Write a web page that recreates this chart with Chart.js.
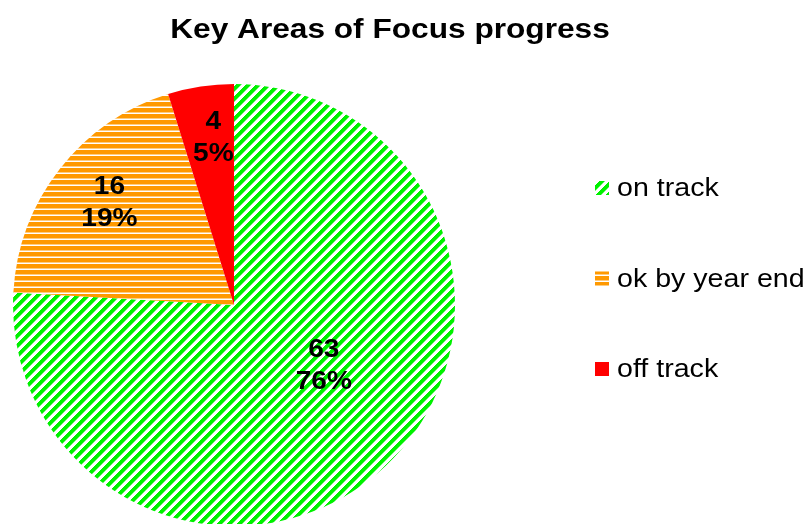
<!DOCTYPE html>
<html>
<head>
<meta charset="utf-8">
<script src="https://cdn.jsdelivr.net/npm/chart.js@4/dist/chart.umd.min.js"></script>
<style>
  html, body { margin: 0; padding: 0; background: #ffffff; overflow: hidden; }
  #wrap { position: relative; width: 811px; height: 526px; }
</style>
</head>
<body>
<div id="wrap"><canvas id="c"></canvas></div>
<script>
// ---- data ----
const chartTitle = 'Key Areas of Focus progress';
const categories = ['on track', 'ok by year end', 'off track'];
const counts = [63, 16, 4];
const percentLabels = ['76%', '19%', '5%'];

// ---- patterns (crisp pixel tiles) ----
function hexToRgb(h) {
  return [parseInt(h.slice(1, 3), 16), parseInt(h.slice(3, 5), 16), parseInt(h.slice(5, 7), 16)];
}
function tilePattern(size, color, isOn) {
  const c = document.createElement('canvas');
  c.width = size; c.height = size;
  const g = c.getContext('2d');
  const img = g.createImageData(size, size);
  const rgb = hexToRgb(color);
  for (let y = 0; y < size; y++) {
    for (let x = 0; x < size; x++) {
      const k = (y * size + x) * 4;
      const v = isOn(x, y);
      const col = v === 1 ? rgb : (v === 0.5 ? rgb.map(ch => Math.round(ch + (255 - ch) * 0.5)) : [255, 255, 255]);
      img.data[k] = col[0]; img.data[k + 1] = col[1]; img.data[k + 2] = col[2]; img.data[k + 3] = 255;
    }
  }
  g.putImageData(img, 0, 0);
  return g.createPattern(c, 'repeat');
}
const greenPattern = tilePattern(10, '#00f000', (x, y) => {
  const p = (x + y) % 10;
  return p < 5 ? 1 : (p === 5 ? 0.5 : 0);
});
const orangePattern = tilePattern(6, '#ff9900', (x, y) => {
  return y < 4 ? 1 : (y === 4 ? 0.5 : 0);
});
const fills = [greenPattern, orangePattern, '#ff0000'];

function stretchedText(ctx, text, x, y, sx, align) {
  ctx.save();
  ctx.translate(x, y);
  ctx.scale(sx, 1);
  ctx.textAlign = align;
  ctx.fillText(text, 0, 0);
  ctx.restore();
}

const decorPlugin = {
  id: 'decor',
  afterDatasetsDraw(chart, args, opts) {
    const ctx = chart.ctx;
    const meta = chart.getDatasetMeta(0);
    ctx.save();
    ctx.fillStyle = '#000000';
    ctx.font = 'bold 26px "Liberation Sans", Arial, sans-serif';
    ctx.textBaseline = 'middle';
    meta.data.forEach((arc, i) => {
      const p = arc.getProps(['x', 'y', 'startAngle', 'endAngle', 'outerRadius'], true);
      const pos = opts.labelPos[i];
      const a = (p.startAngle + p.endAngle) / 2 + pos.da * Math.PI / 180;
      const cx = p.x + Math.cos(a) * p.outerRadius * pos.r;
      const cy = p.y + Math.sin(a) * p.outerRadius * pos.r;
      const ds = chart.data.datasets[0];
      stretchedText(ctx, String(ds.data[i]), cx, cy - 16, 1.08, 'center');
      stretchedText(ctx, opts.percents[i], cx, cy + 16, 1.08, 'center');
    });
    ctx.restore();
  },
  afterDraw(chart, args, opts) {
    const ctx = chart.ctx;
    ctx.save();
    ctx.fillStyle = '#000000';
    ctx.font = 'bold 28px "Liberation Sans", Arial, sans-serif';
    ctx.textBaseline = 'alphabetic';
    stretchedText(ctx, opts.title, 390, 38, 1.13, 'center');
    const ds = chart.data.datasets[0];
    ctx.font = '26px "Liberation Sans", Arial, sans-serif';
    ctx.textBaseline = 'middle';
    chart.data.labels.forEach((lab, i) => {
      const yc = 188 + i * 90.5;
      ctx.fillStyle = ds.backgroundColor[i];
      ctx.fillRect(595, yc - 7, 14, 14);
      ctx.fillStyle = '#000000';
      stretchedText(ctx, lab, 617, yc + 1, 1.1, 'left');
    });
    ctx.restore();
  }
};

new Chart(document.getElementById('c'), {
  type: 'pie',
  data: {
    labels: categories,
    datasets: [{
      data: counts,
      backgroundColor: fills,
      borderWidth: 0,
      hoverOffset: 0
    }]
  },
  options: {
    responsive: true,
    maintainAspectRatio: false,
    animation: false,
    layout: { padding: { left: 13, right: 356, top: 84, bottom: 0 } },
    plugins: {
      legend: { display: false },
      title: { display: false },
      tooltip: { enabled: false },
      decor: {
        title: chartTitle,
        percents: percentLabels,
        labelPos: [{ r: 0.49, da: -12.6 }, { r: 0.73, da: 1.5 }, { r: 0.76, da: 1.6 }]
      }
    }
  },
  plugins: [decorPlugin]
});
</script>
</body>
</html>
